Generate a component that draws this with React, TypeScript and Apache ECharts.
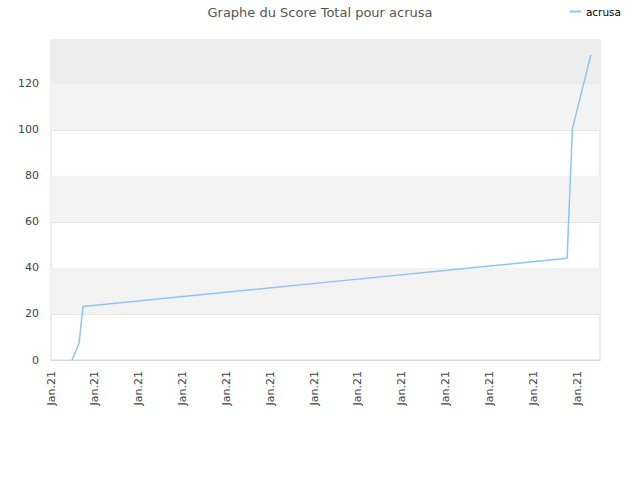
import React, { useEffect, useRef } from "react";
import * as echarts from "echarts";

const title = "Graphe du Score Total pour acrusa";
const seriesName = "acrusa";
const tickLabel = "Jan.21";
// x positions expressed in tick units (each tick labelled "Jan.21")
const xValues = [0.48, 0.64, 0.73, 6.14, 11.77, 11.89, 12.31];
const scores = [0, 7.3, 23.2, 33.5, 44.2, 100.4, 132.5];
const bandRanges: [number, number][] = [
  [20, 40],
  [60, 80],
  [100, 120],
];
const topBand: [number, number] = [120, 139];

export default function App() {
  const ref = useRef<HTMLDivElement>(null);
  useEffect(() => {
    if (!ref.current) return;
    const chart = echarts.init(ref.current, undefined, { renderer: "svg" });
    const font = "DejaVu Sans";
    const data = xValues.map((x, i) => [x, scores[i]]);
    const areas: any[] = bandRanges.map(([a, b]) => [
      { yAxis: a, itemStyle: { color: "#f3f3f3", opacity: 1 } },
      { yAxis: b },
    ]);
    areas.push([
      { yAxis: topBand[0], itemStyle: { color: "#ededed", opacity: 1 } },
      { yAxis: topBand[1] },
    ]);
    chart.setOption({
      animation: false,
      backgroundColor: "#ffffff",
      title: {
        text: title,
        left: "center",
        top: 1,
        textStyle: { fontFamily: font, fontSize: 13, fontWeight: "normal", color: "#555555" },
      },
      legend: {
        right: 14,
        top: 1,
        itemWidth: 11,
        itemHeight: 2,
        itemGap: 10,
        icon: "rect",
        textStyle: { fontFamily: font, fontSize: 10.5, color: "#000000" },
        data: [seriesName],
      },
      grid: {
        left: 51,
        right: 40,
        top: 40,
        bottom: 120,
        show: true,
        borderColor: "#d8d8d8",
        borderWidth: 1,
      },
      xAxis: {
        type: "value",
        min: 0,
        max: 12.52,
        interval: 1,
        axisLine: { show: true, lineStyle: { color: "#d8d8d8" } },
        axisTick: { show: false },
        splitLine: { show: false },
        axisLabel: {
          rotate: 90,
          formatter: () => tickLabel,
          fontFamily: font,
          fontSize: 11,
          color: "#444444",
          margin: 11,
          showMaxLabel: false,
        },
      },
      yAxis: {
        type: "value",
        min: 0,
        max: 139,
        interval: 20,
        axisLine: { show: false },
        axisTick: { show: false },
        splitLine: { show: true, lineStyle: { color: "#e4e4e4" } },
        axisLabel: {
          fontFamily: font,
          fontSize: 11,
          color: "#444444",
          margin: 12,
          showMaxLabel: false,
        },
      },
      series: [
        {
          name: seriesName,
          type: "line",
          data,
          symbol: "none",
          lineStyle: { color: "#8fc3f5", width: 1.5 },
          itemStyle: { color: "#8fc3f5" },
          markArea: { silent: true, data: areas },
        },
      ],
    });
    return () => chart.dispose();
  }, []);
  return (
    <div
      ref={ref}
      style={{ position: "fixed", left: 0, top: 0, width: 640, height: 480 }}
    />
  );
}
